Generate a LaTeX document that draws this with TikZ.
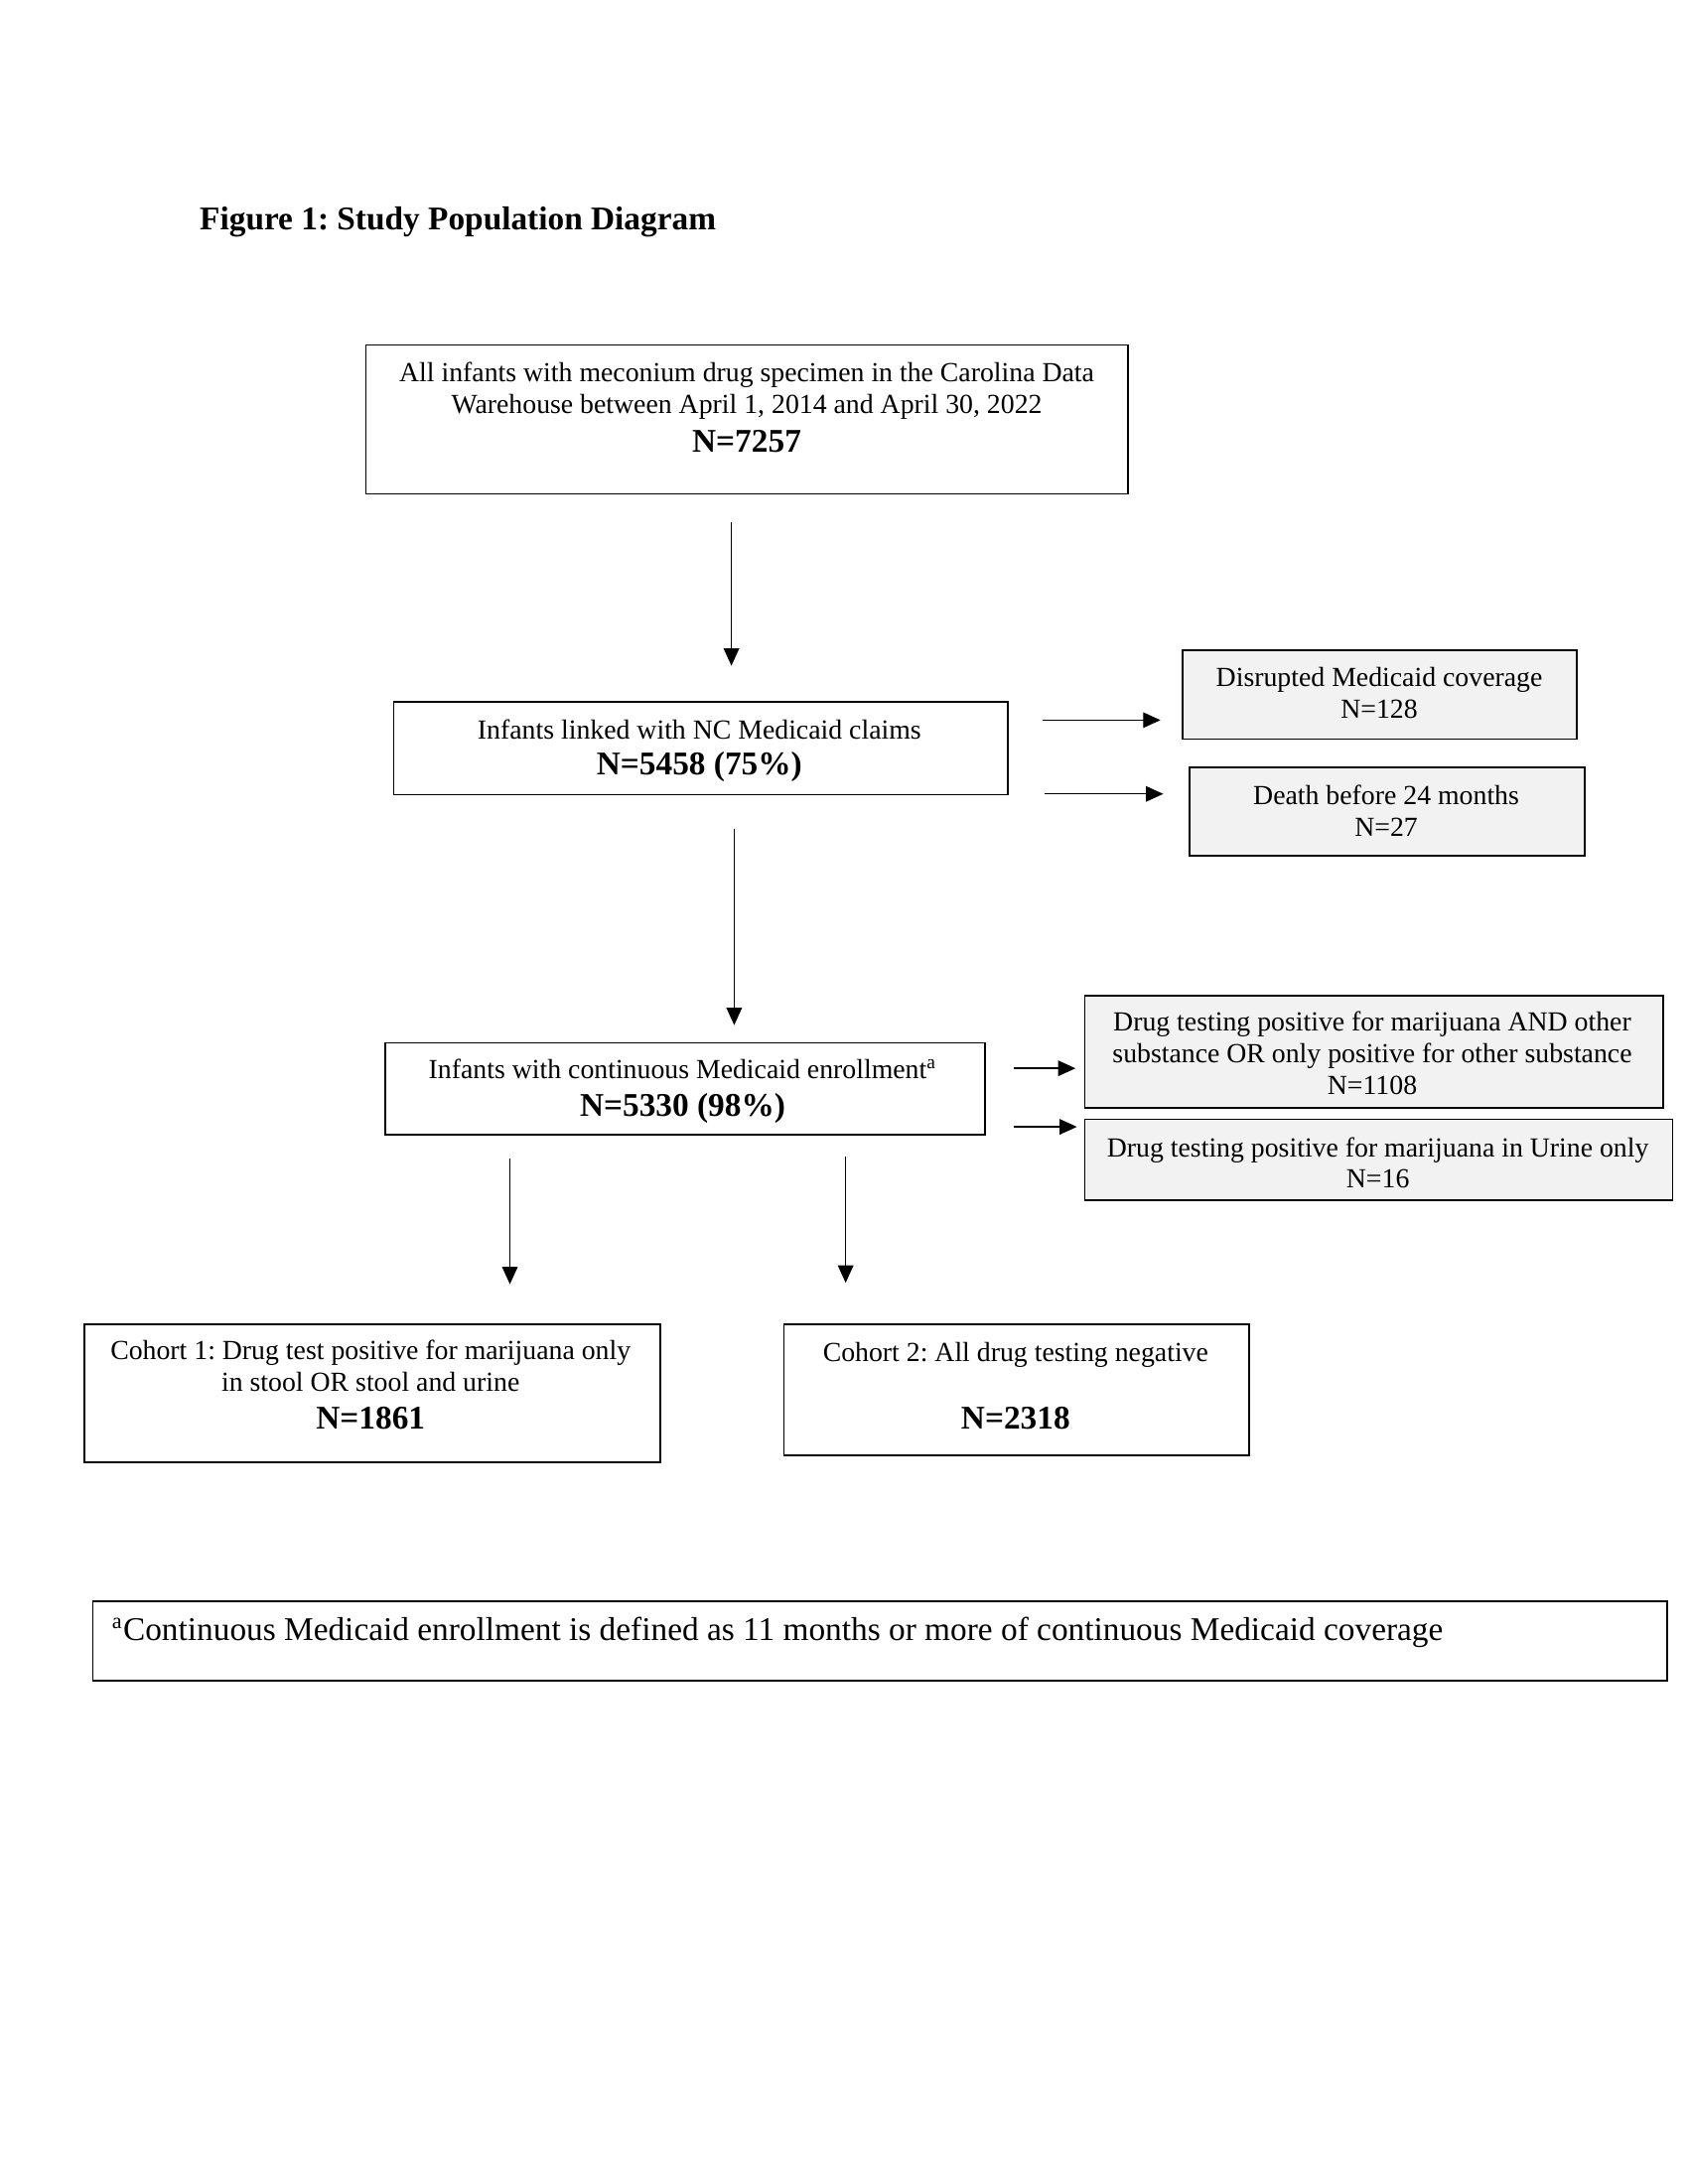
\documentclass[tikz,border=0pt]{standalone}
\usepackage{fontspec}
\setmainfont{Liberation Serif}
\usetikzlibrary{arrows.meta}
\definecolor{boxgray}{HTML}{F2F2F2}
\frenchspacing
\begin{document}
\begin{tikzpicture}[x=0.505pt,y=-0.505pt,
  box/.style={draw=black, line width=0.65pt, fill=white, inner sep=0pt, anchor=north west},
  greybox/.style={box, fill=boxgray},
  txt/.style={align=center, inner sep=0pt, anchor=north, font=\fontsize{10}{11.5}\selectfont},
  arr/.style={-{Triangle[length=6.3pt,width=5.6pt]}, line width=0.5pt}]
\fill[white] (0,0) rectangle (1212,1568);
\useasboundingbox (0,0) rectangle (1212,1568);

% title
\node[anchor=base west, inner sep=0pt, font=\fontsize{12}{14}\selectfont\bfseries] (title) at (143,165) {Figure 1: Study Population Diagram};

% boxes
\node[box, minimum width=276.2pt, minimum height=54pt] (b1) at (262,247) {};
\node[box, minimum width=222.7pt, minimum height=33.8pt] (b2) at (282,503) {};
\node[greybox, minimum width=142.9pt, minimum height=32.3pt] (b3) at (848,466) {};
\node[greybox, minimum width=143.4pt, minimum height=32.3pt] (b4) at (853,550) {};
\node[box, minimum width=217.2pt, minimum height=33.3pt] (b5) at (276,748) {};
\node[greybox, minimum width=209.6pt, minimum height=40.9pt] (b6) at (778,714) {};
\node[greybox, minimum width=213.1pt, minimum height=29.3pt] (b7) at (778,803) {};
\node[box, minimum width=208.6pt, minimum height=50pt] (b8) at (60,950) {};
\node[box, minimum width=168.7pt, minimum height=47.5pt] (b9) at (562,950) {};
\node[box, minimum width=570.7pt, minimum height=28.8pt] (fn) at (66,1149) {};

% texts
\node[txt] (t1) at (536,260) {All infants with meconium drug specimen in the Carolina Data\\
Warehouse between April 1, 2014 and April 30, 2022\\[2.3pt]
{\fontsize{12}{14}\selectfont\bfseries N=7257}};
\node[txt] (t2) at (502,516) {Infants linked with NC Medicaid claims\\[1.5pt]
{\fontsize{12}{14}\selectfont\bfseries N=5458 (75\%)}};
\node[txt] (t3) at (990,479) {Disrupted Medicaid coverage\\N=128};
\node[txt] (t4) at (995,563) {Death before 24 months\\N=27};
\node[txt] (t5) at (490,760) {Infants with continuous Medicaid enrollment\textsuperscript{a}\\[2.3pt]
{\fontsize{12}{14}\selectfont\bfseries N=5330 (98\%)}};
\node[txt] (t6) at (985,726) {Drug testing positive for marijuana AND other\\
substance OR only positive for other substance\\N=1108};
\node[txt] (t7) at (989,816) {Drug testing positive for marijuana in Urine only\\N=16};
\node[txt] (t8) at (266,962) {Cohort 1: Drug test positive for marijuana only\\
in stool OR stool and urine\\[2pt]
{\fontsize{12}{14}\selectfont\bfseries N=1861}};
\node[txt] (t9) at (729,963) {Cohort 2: All drug testing negative\\[13pt]
{\fontsize{12}{14}\selectfont\bfseries N=2318}};
\node[anchor=base west, inner sep=0pt, font=\fontsize{12}{14}\selectfont] (tfn) at (80,1178)
  {\textsuperscript{a}Continuous Medicaid enrollment is defined as 11 months or more of continuous Medicaid coverage};

% arrow end points
\coordinate (a1s) at (525,375); \coordinate (a1e) at (525,478);
\coordinate (a2s) at (527,595); \coordinate (a2e) at (527,736);
\coordinate (a3s) at (366,832); \coordinate (a3e) at (366,922);
\coordinate (a4s) at (607,830); \coordinate (a4e) at (607,921);
\coordinate (r1s) at (748,517); \coordinate (r1e) at (833,517);
\coordinate (r2s) at (750,570); \coordinate (r2e) at (835,570);
\coordinate (r3s) at (728,767); \coordinate (r3e) at (772,767);
\coordinate (r4s) at (728,809); \coordinate (r4e) at (773,809);

\draw[arr] (a1s) -- (a1e);
\draw[arr] (a2s) -- (a2e);
\draw[arr] (a3s) -- (a3e);
\draw[arr] (a4s) -- (a4e);
\draw[arr] (r1s) -- (r1e);
\draw[arr] (r2s) -- (r2e);
\draw[arr] (r3s) -- (r3e);
\draw[arr] (r4s) -- (r4e);
\end{tikzpicture}
\end{document}
